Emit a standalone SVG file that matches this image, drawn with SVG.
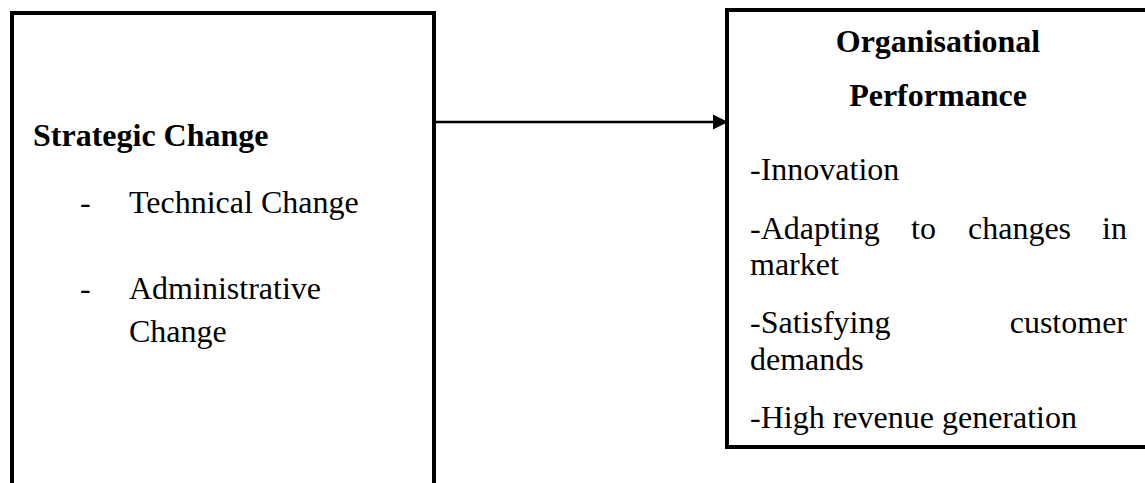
<svg xmlns="http://www.w3.org/2000/svg" width="1145" height="483" viewBox="0 0 1145 483">
<style>
.box{fill:#fff;stroke:#000;stroke-width:4}
.t{font-family:"Liberation Serif","Times New Roman",serif;font-size:32px;fill:#000}
.b{font-weight:bold}
.edge{stroke:#000;stroke-width:2.5;fill:none}
</style>
<defs>
<marker id="arr" viewBox="0 0 10 10" refX="10" refY="5" markerWidth="6" markerHeight="7" markerUnits="strokeWidth" orient="auto">
<path d="M0,0 L10,5 L0,10 Z" fill="#000"/>
</marker>
</defs>
<rect width="1145" height="483" fill="#fff"/>
<g id="connectors">
<line class="edge" x1="436" y1="122" x2="728" y2="122" marker-end="url(#arr)"/>
</g>
<g id="strategic-change">
<rect class="box" x="12" y="13" width="422" height="480"/>
<text class="t b" x="33" y="146">Strategic Change</text>
<text class="t" x="80" y="213">-</text>
<text class="t" x="129" y="213">Technical Change</text>
<text class="t" x="80" y="299">-</text>
<text class="t" x="129" y="299">Administrative</text>
<text class="t" x="129" y="342">Change</text>
</g>
<g id="organisational-performance">
<rect class="box" x="727" y="10" width="430" height="437"/>
<text class="t b" x="938" y="52" text-anchor="middle">Organisational</text>
<text class="t b" x="938" y="106" text-anchor="middle">Performance</text>
<text class="t" x="750" y="180">-Innovation</text>
<text class="t" x="750" y="239">-Adapting</text>
<text class="t" x="911" y="239">to</text>
<text class="t" x="968" y="239">changes</text>
<text class="t" x="1127" y="239" text-anchor="end">in</text>
<text class="t" x="750" y="275">market</text>
<text class="t" x="750" y="333">-Satisfying</text>
<text class="t" x="1127" y="333" text-anchor="end">customer</text>
<text class="t" x="750" y="370">demands</text>
<text class="t" x="750" y="428">-High revenue generation</text>
</g>
</svg>
